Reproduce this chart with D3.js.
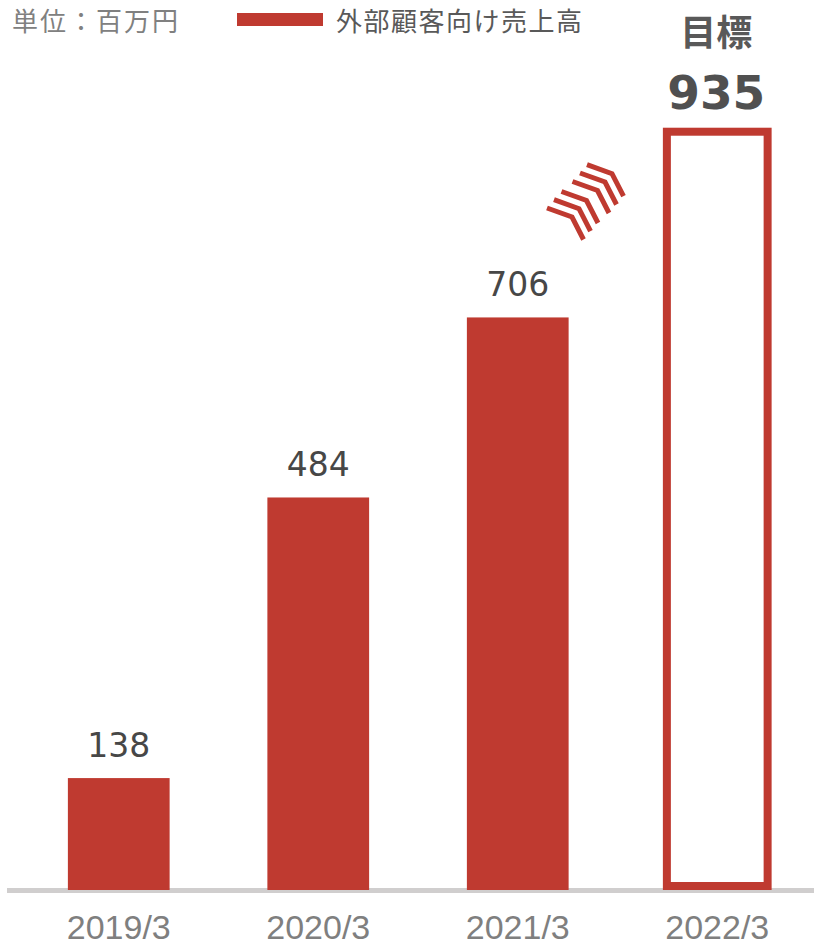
<!DOCTYPE html>
<html>
<head>
<meta charset="utf-8">
<script src="https://cdn.jsdelivr.net/npm/d3@7"></script>
<style>
  body { margin: 0; background: #fff; }
  svg { display: block; }
</style>
</head>
<body>
<svg id="chart"></svg>
<script>
// Data
const years = ['2019/3', '2020/3', '2021/3', '2022/3'];
const sales = [138, 484, 706, 935];
const isTarget = [false, false, false, true];
const unitLabel = '単位：百万円';
const seriesLabel = '外部顧客向け売上高';
const targetLabel = '目標';

const red = '#bf3a30';
const W = 814, H = 946;

const svg = d3.select('#chart').attr('width', W).attr('height', H);

const x = d3.scaleBand().domain(years).range([19, 817]).paddingInner(0.49).paddingOuter(0.245);
const y = d3.scaleLinear().domain([0, 1000]).range([890, 79]);

// Baseline
svg.append('rect')
  .attr('x', 7).attr('y', 888).attr('width', W - 7).attr('height', 5)
  .attr('fill', '#d0cece');

const bars = svg.append('g').attr('class', 'bars');
const data = years.map((d, i) => ({ year: d, value: sales[i], target: isTarget[i] }));

// Filled bars
bars.selectAll('rect.fill')
  .data(data.filter((d) => !d.target))
  .join('rect')
  .attr('class', 'fill')
  .attr('x', (d) => x(d.year))
  .attr('width', x.bandwidth())
  .attr('y', (d) => y(d.value))
  .attr('height', (d) => y(0) - y(d.value))
  .attr('fill', red);

// Target bar (outline)
bars.selectAll('rect.target')
  .data(data.filter((d) => d.target))
  .join('rect')
  .attr('class', 'target')
  .attr('x', (d) => x(d.year) + 0.5)
  .attr('width', x.bandwidth() - 1)
  .attr('y', (d) => y(d.value))
  .attr('height', (d) => y(0) - 4 - y(d.value))
  .attr('fill', '#fff')
  .attr('stroke', red)
  .attr('stroke-width', 8);

// Value labels
svg.append('g').selectAll('text')
  .data(data.filter((d) => !d.target))
  .join('text')
  .attr('x', (d) => x(d.year) + x.bandwidth() / 2)
  .attr('y', (d) => y(d.value) - 21)
  .attr('text-anchor', 'middle')
  .attr('font-family', '"DejaVu Sans", Verdana, sans-serif')
  .attr('font-size', 33)
  .attr('fill', '#474747')
  .text((d) => d.value);

// Target label
const tgt = data.find((d) => d.target);
const tx = x(tgt.year) + x.bandwidth() / 2 - 1;
svg.append('text')
  .attr('x', tx).attr('y', 46)
  .attr('text-anchor', 'middle')
  .attr('font-family', '"Noto Sans CJK JP", sans-serif')
  .attr('font-weight', 'bold')
  .attr('font-size', 36)
  .attr('fill', '#595959')
  .text(targetLabel);
svg.append('text')
  .attr('x', tx).attr('y', 109)
  .attr('text-anchor', 'middle')
  .attr('font-family', '"DejaVu Sans", Verdana, sans-serif')
  .attr('font-weight', 'bold')
  .attr('font-size', 47)
  .attr('fill', '#505050')
  .text(tgt.value);

// X axis labels
svg.append('g').selectAll('text')
  .data(years)
  .join('text')
  .attr('x', (d) => x(d) + x.bandwidth() / 2)
  .attr('y', 939)
  .attr('text-anchor', 'middle')
  .attr('font-family', '"Liberation Sans Narrow", "Arial Narrow", sans-serif')
  .attr('font-size', 34)
  .attr('fill', '#7f7f7f')
  .text((d) => d);

// Legend
svg.append('text')
  .attr('x', 12).attr('y', 31)
  .attr('font-family', '"Noto Sans CJK JP", sans-serif')
  .attr('font-size', 26)
  .attr('letter-spacing', 2)
  .attr('fill', '#808080')
  .text(unitLabel);
svg.append('rect')
  .attr('x', 237).attr('y', 13).attr('width', 86).attr('height', 13)
  .attr('fill', red);
svg.append('text')
  .attr('x', 336).attr('y', 31)
  .attr('font-family', '"Noto Sans CJK JP", sans-serif')
  .attr('font-size', 26)
  .attr('letter-spacing', 1.5)
  .attr('fill', '#595959')
  .text(seriesLabel);

// Decorative chevrons pointing toward the target
const chevron = (ox, oy) => `M${ox},${oy} l25,9 l11.5,22.5`;
const offsets = [[0, 0], [7, -8.3], [14.5, -16.5], [25.5, -26.5], [33, -35], [40, -43.3]];
svg.append('g')
  .selectAll('path')
  .data(offsets)
  .join('path')
  .attr('d', (d) => chevron(547 + d[0], 208 + d[1]))
  .attr('fill', 'none')
  .attr('stroke', red)
  .attr('stroke-width', 5);
</script>
</body>
</html>
